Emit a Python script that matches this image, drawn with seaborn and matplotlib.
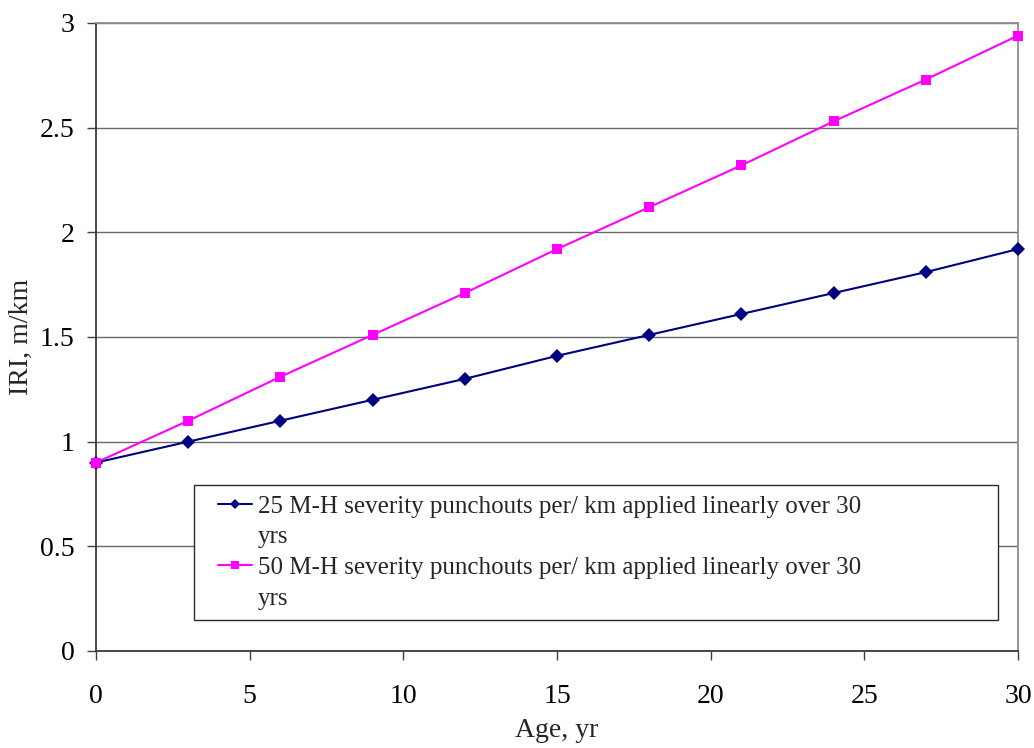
import matplotlib
matplotlib.use("Agg")
import matplotlib.pyplot as plt
from matplotlib.lines import Line2D
from matplotlib.legend_handler import HandlerLine2D
import seaborn as sns
import pandas as pd

# Pavement roughness (IRI) growth with punchouts
age_yr = [0, 3, 6, 9, 12, 15, 18, 21, 24, 27, 30]
iri_25 = [0.90, 1.00, 1.10, 1.20, 1.30, 1.41, 1.51, 1.61, 1.71, 1.81, 1.92]
iri_50 = [0.90, 1.10, 1.31, 1.51, 1.71, 1.92, 2.12, 2.32, 2.53, 2.73, 2.94]
series_names = [
    "25 M-H severity punchouts per/ km applied linearly over 30",
    "50 M-H severity punchouts per/ km applied linearly over 30",
]
series_wrap = "yrs"
series_colors = ["#000080", "#FF00FF"]
x_ticks = [0, 5, 10, 15, 20, 25, 30]
y_ticks = [0, 0.5, 1, 1.5, 2, 2.5, 3]
y_tick_labels = ["0", "0.5", "1", "1.5", "2", "2.5", "3"]

df = pd.concat([
    pd.DataFrame({"Age": age_yr, "IRI": iri_25, "Series": series_names[0]}),
    pd.DataFrame({"Age": age_yr, "IRI": iri_50, "Series": series_names[1]}),
])

sns.set_theme(style="white")
plt.rcParams["font.family"] = ["Liberation Serif", "DejaVu Serif"]

fig = plt.figure(figsize=(10.34, 7.48), dpi=100)
ax = fig.add_axes([96 / 1034, 1 - 651 / 748, (1018 - 96) / 1034, (651 - 23) / 748])

sns.lineplot(
    data=df, x="Age", y="IRI", hue="Series", style="Series",
    palette=series_colors, markers=["D", "s"], dashes=False,
    markersize=7, markeredgewidth=0, linewidth=1.5, ax=ax, clip_on=False,
    legend=False, zorder=3,
)

ax.set_xlim(0, 30)
ax.set_ylim(0, 3)
ax.set_xticks(x_ticks)
ax.set_yticks(y_ticks)
ax.set_yticklabels(y_tick_labels)
ax.tick_params(axis="both", labelsize=20, colors="black", length=6.5, width=1,
               direction="out", left=True, bottom=True)
ax.tick_params(axis="y", pad=9, color="#404040")
ax.tick_params(axis="x", pad=17, color="#404040")
ax.yaxis.grid(True, color="#6a6a6a", linewidth=1)
ax.xaxis.grid(False)

for side in ["top", "right"]:
    ax.spines[side].set_color("#8c8c8c")
    ax.spines[side].set_linewidth(1.3)
for side in ["left", "bottom"]:
    ax.spines[side].set_color("#3a3a3a")
    ax.spines[side].set_linewidth(1.3)

ax.set_xlabel("Age, yr", fontsize=20, labelpad=7)
ax.set_ylabel("IRI, m/km", fontsize=20, labelpad=4)


class InsetLineHandler(HandlerLine2D):
    """Line handle drawn in the right part of its slot."""

    def __init__(self, frac, **kw):
        super().__init__(**kw)
        self.frac = frac

    def create_artists(self, legend, orig_handle, xdescent, ydescent,
                       width, height, fontsize, trans):
        s = self.frac * width
        return super().create_artists(legend, orig_handle, xdescent - s, ydescent,
                                      width - s, height, fontsize, trans)


handles, labels = [], []
for name, color, mk in zip(series_names, series_colors, ["D", "s"]):
    handles.append(Line2D([], [], color=color, marker=mk, markersize=5.5,
                          markeredgewidth=0, linewidth=1.5))
    labels.append(name)
    handles.append(Line2D([], [], linestyle="none", marker=None))
    labels.append(series_wrap)

leg = ax.legend(
    handles, labels,
    handler_map={h: InsetLineHandler(0.284) for h in handles[::2]},
    loc="upper left", mode="expand",
    bbox_to_anchor=(194 / 1034, 1 - 622 / 748, (998 - 194) / 1034, 137 / 748),
    bbox_transform=fig.transFigure, borderaxespad=0,
    fontsize=18, frameon=True, fancybox=False, framealpha=1, edgecolor="#2a2a2a",
    handlelength=1.9, handletextpad=0.24, borderpad=0.42, labelspacing=0.32,
)
leg.get_frame().set_linewidth(1)
leg.set_zorder(5)

fig.savefig("out.png", dpi=100)
